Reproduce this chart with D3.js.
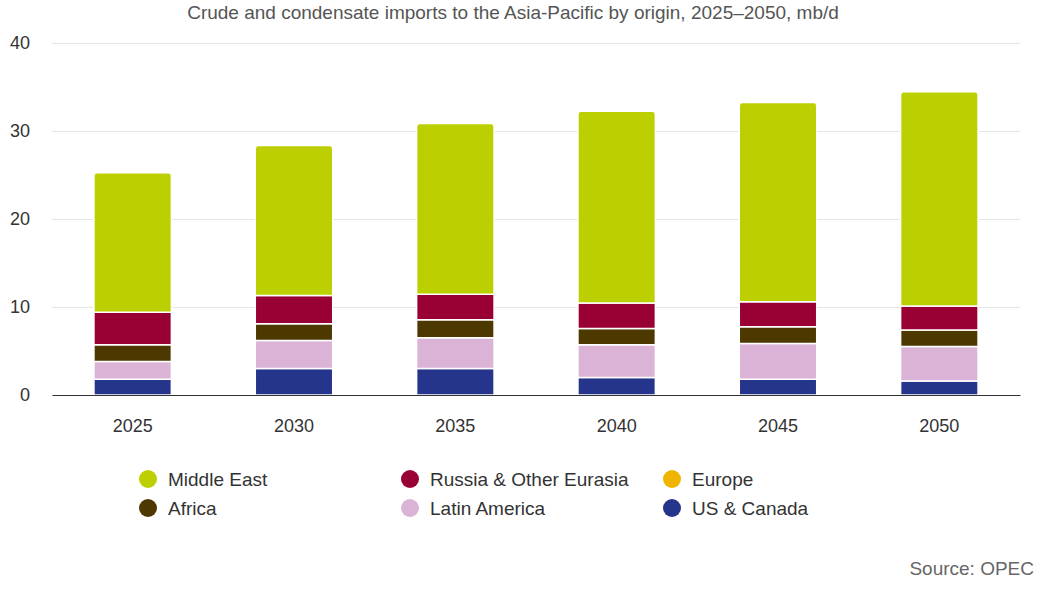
<!DOCTYPE html>
<html>
<head>
<meta charset="utf-8">
<script src="https://cdn.jsdelivr.net/npm/d3@7"></script>
<style>
  body { margin: 0; background: #fff; }
  text { font-family: "Liberation Sans", Arial, sans-serif; }
</style>
</head>
<body>
<script>
// categories and series (mb/d)
var years = ["2025", "2030", "2035", "2040", "2045", "2050"];
var usCanada     = [1.8, 3.0, 3.0, 2.0, 1.8, 1.6];
var latinAmerica = [2.0, 3.2, 3.5, 3.7, 4.05, 3.9];
var africa       = [1.9, 1.9, 2.05, 1.85, 1.9, 1.9];
var europe       = [0, 0, 0, 0, 0, 0];
var russia       = [3.7, 3.2, 2.9, 2.9, 2.85, 2.7];
var middleEast   = [15.85, 17.05, 19.4, 21.8, 22.65, 24.35];
var yTicks = [0, 10, 20, 30, 40];

// stacked from the bottom up
var series = [
  { name: "US & Canada", values: usCanada, color: "#26358c" },
  { name: "Latin America", values: latinAmerica, color: "#dbb3d6" },
  { name: "Africa", values: africa, color: "#4d3800" },
  { name: "Europe", values: europe, color: "#f0b400" },
  { name: "Russia & Other Eurasia", values: russia, color: "#990033" },
  { name: "Middle East", values: middleEast, color: "#bccf00" }
];
var legendOrder = ["Middle East", "Russia & Other Eurasia", "Europe",
                   "Africa", "Latin America", "US & Canada"];

var w = 1051, h = 603;
var plotLeft = 52, plotRight = 1020, plotTop = 43, plotBottom = 395;

var svg = d3.select("body").append("svg")
  .attr("width", w)
  .attr("height", h);

var table = years.map(function(yr, i) {
  var row = { year: yr };
  series.forEach(function(s) { row[s.name] = s.values[i]; });
  return row;
});

var stack = d3.stack().keys(series.map(function(s) { return s.name; }));
var layers = stack(table);

var x = d3.scaleBand().domain(years).range([plotLeft, plotRight]).paddingInner(0.52).paddingOuter(0.26);
var y = d3.scaleLinear().domain([0, 40]).range([plotBottom, plotTop]);

// title
svg.append("text")
  .attr("x", 513)
  .attr("y", 19)
  .attr("text-anchor", "middle")
  .attr("font-size", "19px")
  .attr("fill", "#555")
  .text("Crude and condensate imports to the Asia-Pacific by origin, 2025\u20132050, mb/d");

// gridlines
svg.append("g").selectAll("line")
  .data(yTicks.filter(function(d) { return d > 0; }))
  .enter().append("line")
  .attr("x1", plotLeft).attr("x2", plotRight)
  .attr("y1", function(d) { return Math.round(y(d)) + 0.5; })
  .attr("y2", function(d) { return Math.round(y(d)) + 0.5; })
  .attr("stroke", "#e6e6e6")
  .attr("stroke-width", 1);

// y axis labels
var yAxis = d3.axisLeft(y).tickValues(yTicks).tickSize(0).tickPadding(0);
var yg = svg.append("g")
  .attr("transform", "translate(30,0)")
  .call(yAxis);
yg.select(".domain").remove();
yg.selectAll("text")
  .attr("font-size", "18px")
  .attr("fill", "#333")
  .attr("font-family", "Liberation Sans, Arial, sans-serif");

// bars
var topKey = series[series.length - 1].name;
function roundTop(x0, y0, bw, bh, r) {
  r = Math.min(r, bh);
  return "M" + x0 + "," + (y0 + bh) +
    "V" + (y0 + r) +
    "Q" + x0 + "," + y0 + " " + (x0 + r) + "," + y0 +
    "H" + (x0 + bw - r) +
    "Q" + (x0 + bw) + "," + y0 + " " + (x0 + bw) + "," + (y0 + r) +
    "V" + (y0 + bh) + "Z";
}

svg.append("g").selectAll("g")
  .data(layers)
  .enter().append("g")
  .attr("fill", function(d, i) { return series[i].color; })
  .each(function(layer) {
    var g = d3.select(this);
    g.selectAll("path")
      .data(layer.filter(function(d) { return d[1] - d[0] > 0; }))
      .enter().append("path")
      .attr("d", function(d) {
        var x0 = x(d.data.year), bw = x.bandwidth();
        var y0 = y(d[1]), bh = y(d[0]) - y(d[1]);
        return roundTop(x0, y0, bw, bh, layer.key === topKey ? 3 : 0);
      })
      .attr("stroke", "#fff")
      .attr("stroke-width", 1.5);
  });

// x axis
var xAxis = d3.axisBottom(x).tickSize(0).tickPadding(24);
var xg = svg.append("g")
  .attr("transform", "translate(0," + plotBottom + ")")
  .call(xAxis);
xg.select(".domain")
  .attr("stroke", "#333")
  .attr("stroke-width", 1.2);
xg.selectAll("text")
  .attr("font-size", "18px")
  .attr("fill", "#333")
  .attr("font-family", "Liberation Sans, Arial, sans-serif");

// legend
var colorOf = {};
series.forEach(function(s) { colorOf[s.name] = s.color; });
var legend = svg.append("g").selectAll("g")
  .data(legendOrder)
  .enter().append("g")
  .attr("transform", function(d, i) {
    return "translate(" + (148 + (i % 3) * 262) + "," + (479 + Math.floor(i / 3) * 29) + ")";
  });
legend.append("circle")
  .attr("r", 9)
  .attr("fill", function(d) { return colorOf[d]; });
legend.append("text")
  .attr("x", 20)
  .attr("y", 6.5)
  .attr("font-size", "19px")
  .attr("fill", "#333")
  .text(function(d) { return d; });

// source
svg.append("text")
  .attr("x", 1034)
  .attr("y", 575)
  .attr("text-anchor", "end")
  .attr("font-size", "19px")
  .attr("fill", "#666")
  .attr("font-family", "Noto Sans, sans-serif")
  .text("Source: OPEC");
</script>
</body>
</html>
